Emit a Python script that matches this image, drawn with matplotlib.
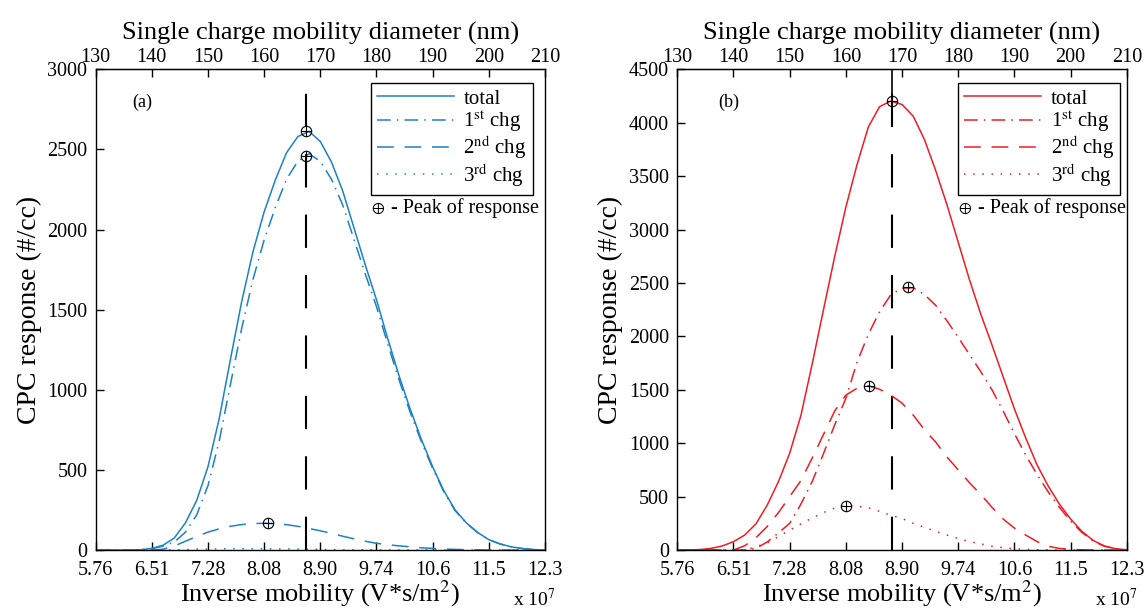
import numpy as np
import matplotlib
matplotlib.use("Agg")
import matplotlib.pyplot as plt

plt.rcParams['font.family'] = ['Liberation Serif', 'DejaVu Serif']
plt.rcParams['mathtext.fontset'] = 'stix'

# diameter grid (nm), top axis
diam = list(range(130, 211, 2))
top_ticks = [130, 140, 150, 160, 170, 180, 190, 200, 210]
bottom_labels = ['5.76', '6.51', '7.28', '8.08', '8.90', '9.74', '10.6', '11.5', '12.3']

# panel (a)
a_total = [0, 0, 0, 0, 2, 10, 30, 75, 170, 310, 520, 820, 1190, 1550, 1860,
           2110, 2310, 2480, 2580, 2612, 2550, 2420, 2240, 2010, 1780,
           1562, 1320, 1090, 880, 690, 520, 370, 250, 170, 110, 65, 38, 20, 9, 3, 0]
a_1st = [0, 0, 0, 0, 2, 8, 25, 49, 112, 220, 402, 681, 1034, 1383, 1687,
         1935, 2138, 2315, 2426, 2473, 2426, 2313, 2152, 1938, 1724,
         1519, 1287, 1064, 860, 676, 510, 364, 246, 168, 109, 65, 38, 20, 9, 3, 0]
a_2nd = [0, 0, 0, 0, 0, 0, 5, 25, 55, 85, 112, 132, 148, 159, 165,
         167, 165, 158, 148, 134, 120, 104, 86, 70, 55,
         42, 33, 26, 20, 14, 10, 6, 4, 2, 1, 0, 0, 0, 0, 0, 0]
a_3rd = [0, 0, 0, 0, 0, 0, 0, 1, 3, 5, 6, 7, 8, 8, 8,
         8, 7, 7, 6, 5, 4, 3, 2, 2, 1,
         1, 0, 0, 0, 0, 0, 0, 0, 0, 0, 0, 0, 0, 0, 0, 0]
a_peak_d = [167.5, 167.5, 160.7]
a_peak_v = [2612, 2458, 167]
a_vline = 167.5

# panel (b)
b_total = [0, 1, 4, 15, 38, 78, 140, 245, 420, 640, 906, 1260, 1740, 2245, 2745,
           3210, 3610, 3960, 4150, 4203, 4170, 4060, 3840, 3550, 3230,
           2880, 2530, 2210, 1920, 1620, 1320, 1050, 800, 600, 430, 290, 175, 90, 38, 12, 2]
b_1st = [0, 0, 0, 0, 0, 0, 0, 15, 75, 160, 250, 430, 640, 900, 1170,
         1420, 1760, 2020, 2230, 2390, 2450, 2455, 2390, 2290, 2145,
         1990, 1830, 1670, 1500, 1300, 1090, 890, 710, 545, 400, 270, 165, 85, 35, 12, 2]
b_2nd = [0, 0, 0, 0, 0, 0, 40, 115, 220, 350, 500, 650, 860, 1080, 1300,
         1450, 1515, 1537, 1505, 1450, 1375, 1262, 1125, 1010, 870,
         750, 630, 520, 400, 290, 205, 140, 80, 35, 15, 6, 2, 0, 0, 0, 0]
b_3rd = [0, 0, 0, 0, 0, 0, 0, 30, 68, 125, 187, 245, 300, 350, 392,
         416, 410, 395, 362, 326, 295, 250, 212, 175, 140,
         108, 78, 58, 35, 22, 12, 6, 3, 1, 0, 0, 0, 0, 0, 0, 0]
b_peak_d = [168.2, 171.0, 164.2, 160.1]
b_peak_v = [4203, 2460, 1537, 416]
b_vline = 168.2

blue = '#1b82c6'
red = '#ee1c25'

fig = plt.figure(figsize=(11.47, 6.11), dpi=100)
ax_a = fig.add_axes([0.0834, 0.0998, 0.3917, 0.7868])
ax_b = fig.add_axes([0.5905, 0.0998, 0.3919, 0.7868])

labels = ['total', r'1$^{\mathrm{st}}$ chg', r'2$^{\mathrm{nd}}$ chg', r'3$^{\mathrm{rd}}$ chg']
styles = ['-', (0, (9, 4, 1, 4)), (0, (11, 7)), (0, (1, 5))]


def draw(ax, series, color, peak_d, peak_v, vline, ymax, tag, leg_x, solid_top):
    lines = []
    for vals, ls, lab in zip(series, styles, labels):
        ln, = ax.plot(diam, vals, color=color, ls=ls, lw=1.1, label=lab)
        lines.append(ln)
    ax.axvline(vline, color='k', lw=1.5, ls=(0, (16, 13)), zorder=1)
    if solid_top:
        ax.axvline(vline, ymin=max(peak_v) / ymax, color='k', lw=1.2, zorder=1)
    ax.plot(peak_d, peak_v, ls='none', marker='o', ms=7.5, mfc='none', mec='k', mew=0.8)
    ax.plot(peak_d, peak_v, ls='none', marker='+', ms=7.5, mec='k', mew=0.8)

    ax.set_xlim(130, 210)
    ax.set_ylim(0, ymax)
    ax.set_xticks(top_ticks)
    ax.set_xticklabels(bottom_labels)
    ax.set_yticks(np.arange(0, ymax + 1, 500))
    ax.tick_params(direction='in', length=6, width=1, labelsize=14.5)
    ax.tick_params(axis='x', pad=8)
    ax.tick_params(axis='y', pad=6)
    for s in ax.spines.values():
        s.set_linewidth(1.0)

    sec = ax.secondary_xaxis('top')
    sec.set_xticks(top_ticks)
    sec.tick_params(direction='in', length=6, width=1, labelsize=14.5, pad=2)
    sec.set_xlabel('Single charge mobility diameter (nm)', fontsize=19, labelpad=6)

    ax.set_xlabel(r'Inverse mobility (V*s/m$^{2}$)', fontsize=19, labelpad=-1)
    ax.set_ylabel('CPC response (#/cc)', fontsize=20, labelpad=4)
    ax.text(1.024, -0.103, r'x 10$^{7}$', transform=ax.transAxes, ha='right', va='center', fontsize=14)
    ax.text(tag[1], 0.931, tag[0], transform=ax.transAxes, ha='left', va='center', fontsize=13)

    leg = ax.legend(handles=lines, loc='upper right', bbox_to_anchor=(leg_x, 0.972),
                    fontsize=15, handlelength=3.7, handletextpad=0.45, labelspacing=0.0,
                    borderpad=0.3, borderaxespad=0, fancybox=False, framealpha=1,
                    edgecolor='k')
    leg.get_frame().set_linewidth(1.0)
    fig.canvas.draw()
    bb = leg.get_window_extent().transformed(ax.transAxes.inverted())
    ax.text(bb.x0, bb.y0 - 0.028, r'$\oplus$',
            transform=ax.transAxes, ha='left', va='center', fontsize=11)
    ax.text(bb.x0 + 0.045, bb.y0 - 0.028, '- Peak of response',
            transform=ax.transAxes, ha='left', va='center', fontsize=14.5)


draw(ax_a, [a_total, a_1st, a_2nd, a_3rd], blue, a_peak_d, a_peak_v, a_vline,
     3000, ('(a)', 0.081), 0.973, False)
draw(ax_b, [b_total, b_1st, b_2nd, b_3rd], red, b_peak_d, b_peak_v, b_vline,
     4500, ('(b)', 0.09), 0.985, True)

fig.savefig('out.png', dpi=100)
